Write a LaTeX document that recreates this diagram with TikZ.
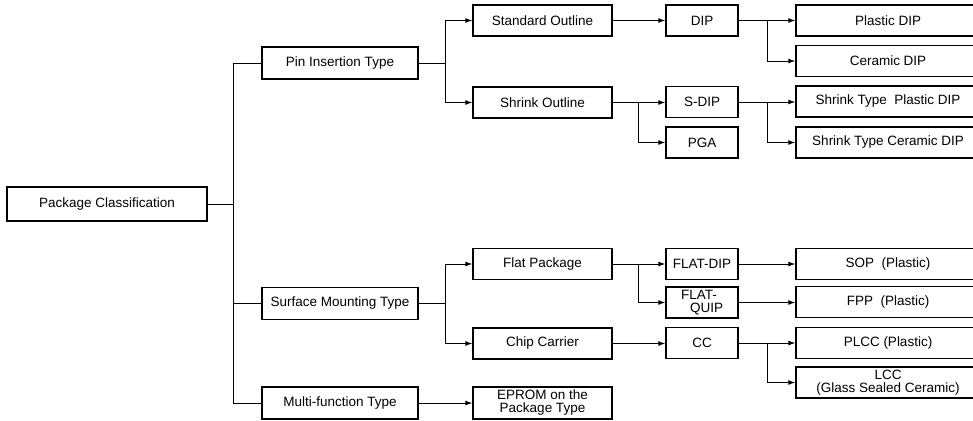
\documentclass[tikz,border=0pt]{standalone}
\usepackage{fontspec}
\setmainfont{Liberation Sans}
\usetikzlibrary{arrows.meta}
\tikzset{
  x=1pt,y=1pt,
  box/.style={draw, line width=1.3pt, inner sep=0pt, align=center,
    font=\fontsize{13.5}{13}\selectfont},
  bA/.style={box, minimum width=200pt, minimum height=34pt},
  bB/.style={box, minimum width=156pt, minimum height=32pt},
  bC/.style={box, minimum width=139pt, minimum height=31pt},
  bD/.style={box, minimum width=72pt, minimum height=31pt},
  bE/.style={box, minimum width=184pt, minimum height=31pt},
  link/.style={line width=1pt},
  arr/.style={link, -{Latex[length=7pt,width=5pt]}}
}
\begin{document}
\begin{tikzpicture}
\useasboundingbox (0,0) rectangle (973,-420);
\clip (0,0) rectangle (973,-420);
% junction columns
\coordinate (jx0) at (233,0);
\coordinate (jx1) at (445,0);
\coordinate (jx2) at (638,0);
\coordinate (jx3) at (767,0);
% level 0
\node[bA] (pc) at (107,-204) {Package Classification};
% level 1
\node[bB] (pin) at (340,-63) {Pin Insertion Type};
\node[bB] (smt) at (340,-303.5) {Surface Mounting Type};
\node[bB] (mft) at (340,-403) {Multi-function Type};
% level 2
\node[bC] (std) at (542.5,-20.5) {Standard Outline};
\node[bC] (shr) at (542.5,-102.5) {Shrink Outline};
\node[bC] (flat) at (542.5,-264) {Flat Package};
\node[bC] (chip) at (542.5,-343.5) {Chip Carrier};
\node[bC, minimum height=32pt] (eprom) at (542.5,-403) {EPROM on the\\Package Type};
% level 3
\node[bD] (dip) at (702,-20.5) {DIP};
\node[bD] (sdip) at (702,-102) {S-DIP};
\node[bD] (pga) at (702,-142.5) {PGA};
\node[bD] (fdip) at (702,-264) {FLAT-DIP};
\node[bD, align=left] (fquip) at (702,-302.5) {FLAT-\\\hspace*{9pt}QUIP};
\node[bD] (cc) at (702,-343) {CC};
% level 4
\node[bE] (pdip) at (888,-20.5) {Plastic DIP};
\node[bE] (cdip) at (888,-61) {Ceramic DIP};
\node[bE] (spdip) at (888,-101.5) {Shrink Type\ \ Plastic DIP};
\node[bE] (scdip) at (888,-142.5) {Shrink Type Ceramic DIP};
\node[bE] (sop) at (888,-264) {SOP\ \ (Plastic)};
\node[bE] (fpp) at (888,-302) {FPP\ \ (Plastic)};
\node[bE] (plcc) at (888,-343) {PLCC (Plastic)};
\node[bE] (lcc) at (888,-382.5) {LCC\\(Glass Sealed Ceramic)};
% trunk
\draw[link] (pc.east) -- (pc.east -| jx0);
\draw[link] (pc.east -| jx0) |- (pin.west);
\draw[link] (pc.east -| jx0) |- (smt.west);
\draw[link] (pc.east -| jx0) |- (mft.west);
% pin insertion
\draw[link] (pin.east) -- (pin.east -| jx1);
\draw[arr] (pin.east -| jx1) |- (std.west);
\draw[arr] (pin.east -| jx1) |- (shr.west);
% surface mounting
\draw[link] (smt.east) -- (smt.east -| jx1);
\draw[arr] (smt.east -| jx1) |- (flat.west);
\draw[arr] (smt.east -| jx1) |- (chip.west);
% multi-function
\draw[arr] (mft.east) -- (eprom.west |- mft.east);
% level 2 -> 3
\draw[arr] (std.east) -- (dip.west |- std.east);
\draw[arr] (shr.east) -- (sdip.west |- shr.east);
\draw[arr] (shr.east -| jx2) |- (pga.west);
\draw[arr] (flat.east) -- (fdip.west |- flat.east);
\draw[arr] (flat.east -| jx2) |- (fquip.west);
\draw[arr] (chip.east) -- (cc.west |- chip.east);
% level 3 -> 4
\draw[arr] (dip.east) -- (pdip.west |- dip.east);
\draw[arr] (dip.east -| jx3) |- (cdip.west);
\draw[arr] (sdip.east) -- (spdip.west |- sdip.east);
\draw[arr] (sdip.east -| jx3) |- (scdip.west);
\draw[arr] (fdip.east) -- (sop.west |- fdip.east);
\draw[arr] (fquip.east) -- (fpp.west |- fquip.east);
\draw[arr] (cc.east) -- (plcc.west |- cc.east);
\draw[arr] (cc.east -| jx3) |- (lcc.west);
\end{tikzpicture}
\end{document}
